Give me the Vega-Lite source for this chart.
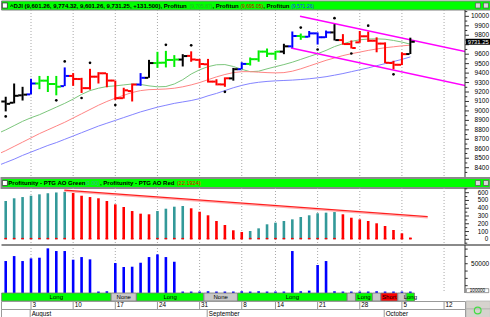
{
"$schema": "https://vega.github.io/schema/vega-lite/v6.json",
"padding": 0,
"spacing": 0,
"bounds": "flush",
"config": {"view": {"stroke": null}, "font": "Liberation Sans", "text": {"font": "Liberation Sans"}, "axis": {"disable": true}},
"resolve": {"scale": {"x": "independent", "y": "independent", "color": "independent", "fill": "independent"}},
"datasets": {
"bars": [
{"i":-4,"date":"2009-07-28","lips":8760,"teeth":8540,"jaw":8420},
{"i":-3,"date":"2009-07-29","open":9100,"high":9150,"low":8995,"close":9075,"zone":"Gray zone","fractal":"down","lips":8800,"teeth":8580,"jaw":8455,"ao":493,"aodir":"rising","vol":54600},
{"i":-2,"date":"2009-07-30","open":9087,"high":9290,"low":9080,"close":9160,"zone":"Gray zone","lips":8845,"teeth":8625,"jaw":8490,"ao":528,"aodir":"rising","vol":63100},
{"i":-1,"date":"2009-07-31","open":9165,"high":9255,"low":9110,"close":9172,"zone":"Gray zone","lips":8890,"teeth":8670,"jaw":8530,"ao":544,"aodir":"rising","vol":54600},
{"i":0,"date":"2009-08-03","open":9175,"high":9340,"low":9175,"close":9290,"zone":"Blue bar","lips":8928,"teeth":8715,"jaw":8565,"ao":561,"aodir":"rising","vol":59200},
{"i":1,"date":"2009-08-04","open":9290,"high":9370,"low":9230,"close":9320,"zone":"Green zone","lips":8960,"teeth":8760,"jaw":8600,"ao":579,"aodir":"rising","vol":60300},
{"i":2,"date":"2009-08-05","open":9320,"high":9370,"low":9200,"close":9285,"zone":"Green zone","lips":9000,"teeth":8800,"jaw":8635,"ao":593,"aodir":"rising","vol":76300},
{"i":3,"date":"2009-08-06","open":9285,"high":9370,"low":9165,"close":9256,"zone":"Green zone","fractal":"down","lips":9040,"teeth":8840,"jaw":8665,"ao":603,"aodir":"rising","vol":71700},
{"i":4,"date":"2009-08-07","open":9262,"high":9460,"low":9262,"close":9370,"zone":"Blue bar","fractal":"up","lips":9080,"teeth":8880,"jaw":8700,"ao":611,"aodir":"rising","vol":71700},
{"i":5,"date":"2009-08-10","open":9370,"high":9400,"low":9265,"close":9338,"zone":"Red zone","lips":9125,"teeth":8925,"jaw":8735,"ao":596,"aodir":"falling","vol":56900},
{"i":6,"date":"2009-08-11","open":9337,"high":9350,"low":9190,"close":9241,"zone":"Red zone","fractal":"down","lips":9175,"teeth":8970,"jaw":8770,"ao":561,"aodir":"falling","vol":61400},
{"i":7,"date":"2009-08-12","open":9241,"high":9445,"low":9225,"close":9362,"zone":"Red zone","fractal":"up","lips":9215,"teeth":9015,"jaw":8805,"ao":544,"aodir":"falling","vol":57500},
{"i":8,"date":"2009-08-13","open":9362,"high":9410,"low":9290,"close":9398,"zone":"Red zone","lips":9240,"teeth":9060,"jaw":8840,"ao":528,"aodir":"falling","vol":2500},
{"i":9,"date":"2009-08-14","open":9398,"high":9400,"low":9250,"close":9321,"zone":"Red zone","lips":9258,"teeth":9100,"jaw":8870,"ao":493,"aodir":"falling","vol":3000},
{"i":10,"date":"2009-08-17","open":9321,"high":9321,"low":9115,"close":9135,"zone":"Red zone","fractal":"down","lips":9265,"teeth":9135,"jaw":8900,"ao":450,"aodir":"falling","vol":51200},
{"i":11,"date":"2009-08-18","open":9135,"high":9245,"low":9130,"close":9218,"zone":"Red zone","lips":9275,"teeth":9165,"jaw":8930,"ao":416,"aodir":"falling","vol":44400},
{"i":12,"date":"2009-08-19","open":9210,"high":9290,"low":9100,"close":9279,"zone":"Red zone","lips":9285,"teeth":9195,"jaw":8960,"ao":364,"aodir":"falling","vol":44900},
{"i":13,"date":"2009-08-20","open":9279,"high":9400,"low":9265,"close":9350,"zone":"Blue bar","lips":9280,"teeth":9215,"jaw":8990,"ao":330,"aodir":"falling","vol":51700},
{"i":14,"date":"2009-08-21","open":9350,"high":9540,"low":9350,"close":9506,"zone":"Gray zone","lips":9265,"teeth":9225,"jaw":9015,"ao":322,"aodir":"falling","vol":61400},
{"i":15,"date":"2009-08-24","open":9506,"high":9625,"low":9455,"close":9509,"zone":"Green zone","lips":9255,"teeth":9228,"jaw":9040,"ao":364,"aodir":"rising","vol":66000},
{"i":16,"date":"2009-08-25","open":9510,"high":9635,"low":9460,"close":9539,"zone":"Green zone","fractal":"up","lips":9258,"teeth":9232,"jaw":9060,"ao":394,"aodir":"rising","vol":61400},
{"i":17,"date":"2009-08-26","open":9539,"high":9590,"low":9465,"close":9543,"zone":"Green zone","lips":9285,"teeth":9240,"jaw":9080,"ao":420,"aodir":"rising","vol":53400},
{"i":18,"date":"2009-08-27","open":9543,"high":9600,"low":9470,"close":9580,"zone":"Gray zone","lips":9330,"teeth":9255,"jaw":9095,"ao":429,"aodir":"rising","vol":2500},
{"i":19,"date":"2009-08-28","open":9582,"high":9630,"low":9520,"close":9544,"zone":"Red zone","fractal":"up","lips":9390,"teeth":9275,"jaw":9110,"ao":399,"aodir":"falling","vol":2500},
{"i":20,"date":"2009-08-31","open":9540,"high":9550,"low":9455,"close":9496,"zone":"Red zone","lips":9435,"teeth":9300,"jaw":9130,"ao":355,"aodir":"falling","vol":2500},
{"i":21,"date":"2009-09-01","open":9493,"high":9550,"low":9300,"close":9310,"zone":"Red zone","lips":9468,"teeth":9330,"jaw":9160,"ao":309,"aodir":"falling","vol":3000},
{"i":22,"date":"2009-09-02","open":9310,"high":9335,"low":9270,"close":9281,"zone":"Red zone","lips":9488,"teeth":9360,"jaw":9185,"ao":236,"aodir":"falling","vol":2500},
{"i":23,"date":"2009-09-03","open":9280,"high":9355,"low":9255,"close":9345,"zone":"Red zone","fractal":"down","lips":9490,"teeth":9385,"jaw":9215,"ao":184,"aodir":"falling","vol":2500},
{"i":24,"date":"2009-09-04","open":9344,"high":9455,"low":9320,"close":9441,"zone":"Gray zone","lips":9470,"teeth":9405,"jaw":9245,"ao":116,"aodir":"falling","vol":2500},
{"i":25,"date":"2009-09-08","open":9441,"high":9515,"low":9441,"close":9497,"zone":"Blue bar","lips":9440,"teeth":9415,"jaw":9270,"ao":94,"aodir":"falling","vol":3000},
{"i":26,"date":"2009-09-09","open":9497,"high":9565,"low":9480,"close":9547,"zone":"Green zone","lips":9415,"teeth":9415,"jaw":9290,"ao":107,"aodir":"rising","vol":2500},
{"i":27,"date":"2009-09-10","open":9547,"high":9640,"low":9520,"close":9627,"zone":"Green zone","lips":9420,"teeth":9410,"jaw":9303,"ao":141,"aodir":"rising","vol":3000},
{"i":28,"date":"2009-09-11","open":9627,"high":9660,"low":9570,"close":9605,"zone":"Green zone","lips":9445,"teeth":9405,"jaw":9312,"ao":193,"aodir":"rising","vol":2500},
{"i":29,"date":"2009-09-14","open":9605,"high":9635,"low":9540,"close":9627,"zone":"Green zone","lips":9468,"teeth":9402,"jaw":9318,"ao":214,"aodir":"rising","vol":2500},
{"i":30,"date":"2009-09-15","open":9627,"high":9710,"low":9600,"close":9683,"zone":"Gray zone","lips":9490,"teeth":9405,"jaw":9322,"ao":236,"aodir":"rising","vol":2500},
{"i":31,"date":"2009-09-16","open":9683,"high":9840,"low":9668,"close":9792,"zone":"Blue bar","lips":9515,"teeth":9420,"jaw":9326,"ao":257,"aodir":"rising","vol":71700},
{"i":32,"date":"2009-09-17","open":9792,"high":9818,"low":9752,"close":9784,"zone":"Green zone","fractal":"up","lips":9545,"teeth":9445,"jaw":9332,"ao":287,"aodir":"rising","vol":3000},
{"i":33,"date":"2009-09-18","open":9784,"high":9845,"low":9778,"close":9820,"zone":"Blue bar","lips":9575,"teeth":9475,"jaw":9340,"ao":309,"aodir":"rising","vol":4000},
{"i":34,"date":"2009-09-21","open":9820,"high":9830,"low":9702,"close":9779,"zone":"Blue bar","fractal":"down","lips":9605,"teeth":9505,"jaw":9350,"ao":335,"aodir":"rising","vol":47800},
{"i":35,"date":"2009-09-22","open":9779,"high":9850,"low":9772,"close":9830,"zone":"Blue bar","lips":9640,"teeth":9535,"jaw":9362,"ao":343,"aodir":"rising","vol":54600},
{"i":36,"date":"2009-09-23","open":9830,"high":9917,"low":9745,"close":9749,"zone":"Gray zone","fractal":"up","lips":9680,"teeth":9560,"jaw":9378,"ao":351,"aodir":"rising","vol":3000},
{"i":37,"date":"2009-09-24","open":9749,"high":9812,"low":9700,"close":9707,"zone":"Red zone","lips":9710,"teeth":9585,"jaw":9395,"ao":322,"aodir":"falling","vol":2500},
{"i":38,"date":"2009-09-25","open":9707,"high":9745,"low":9660,"close":9665,"zone":"Red zone","fractal":"down","lips":9735,"teeth":9605,"jaw":9415,"ao":278,"aodir":"falling","vol":2500},
{"i":39,"date":"2009-09-28","open":9725,"high":9845,"low":9720,"close":9789,"zone":"Red zone","lips":9752,"teeth":9622,"jaw":9435,"ao":257,"aodir":"falling","vol":2500},
{"i":40,"date":"2009-09-29","open":9789,"high":9838,"low":9730,"close":9742,"zone":"Red zone","fractal":"up","lips":9760,"teeth":9640,"jaw":9455,"ao":236,"aodir":"falling","vol":2500},
{"i":41,"date":"2009-09-30","open":9742,"high":9778,"low":9620,"close":9712,"zone":"Red zone","lips":9762,"teeth":9655,"jaw":9478,"ao":206,"aodir":"falling","vol":3000},
{"i":42,"date":"2009-10-01","open":9712,"high":9725,"low":9505,"close":9509,"zone":"Red zone","lips":9758,"teeth":9668,"jaw":9500,"ao":171,"aodir":"falling","vol":2500},
{"i":43,"date":"2009-10-02","open":9507,"high":9530,"low":9440,"close":9488,"zone":"Red zone","fractal":"down","lips":9745,"teeth":9678,"jaw":9522,"ao":120,"aodir":"falling","vol":2500},
{"i":44,"date":"2009-10-05","open":9488,"high":9620,"low":9485,"close":9600,"zone":"Red zone","lips":9728,"teeth":9688,"jaw":9545,"ao":77,"aodir":"falling","vol":2500},
{"i":45,"date":"2009-10-06","open":9601.26,"high":9774.32,"low":9601.26,"close":9731.25,"zone":"Gray zone","lips":9705.87,"teeth":9695.05,"jaw":9571.26,"ao":22.19,"aodir":"falling","vol":2500}
],
"channel": [
{"line":"upper","i":31.91,"p":10000},{"line":"upper","i":51.6,"p":9626},
{"line":"lower","i":30.85,"p":9665},{"line":"lower","i":51.6,"p":9267}
],
"aotrend": [{"i":3.95,"v":634},{"i":47.06,"v":291}],
"signals": [
{"from":-3,"to":9,"state":"Long","label":"Long"},
{"from":10,"to":12,"state":"None","label":"None"},
{"from":13,"to":20,"state":"Long","label":"Long"},
{"from":21,"to":24,"state":"None","label":"None"},
{"from":25,"to":37,"state":"Long","label":"Long"},
{"from":38,"to":38,"state":"None","label":""},
{"from":39,"to":40,"state":"Long","label":"Long"},
{"from":41,"to":41,"state":"None","label":""},
{"from":42,"to":43,"state":"Short","label":"Short"},
{"from":44,"to":44,"state":"None","label":""},
{"from":45,"to":45,"state":"Long","label":"Long"}
],
"weeks": [
{"i":0,"d":"3"},{"i":5,"d":"10"},{"i":10,"d":"17"},{"i":15,"d":"24"},{"i":20,"d":"31"},{"i":25,"d":"8"},{"i":29,"d":"14"},{"i":34,"d":"21"},{"i":39,"d":"28"},{"i":44,"d":"5"},{"i":49,"d":"12"}
],
"months": [{"i":-0.1,"m":"August"},{"i":20.9,"m":"September"},{"i":41.9,"m":"October"}],
"pticks": [{"v":8350},{"v":8400},{"v":8450},{"v":8500},{"v":8550},{"v":8600},{"v":8650},{"v":8700},{"v":8750},{"v":8800},{"v":8850},{"v":8900},{"v":8950},{"v":9000},{"v":9050},{"v":9100},{"v":9150},{"v":9200},{"v":9250},{"v":9300},{"v":9350},{"v":9400},{"v":9450},{"v":9500},{"v":9550},{"v":9600},{"v":9650},{"v":9700},{"v":9750},{"v":9800},{"v":9850},{"v":9900},{"v":9950},{"v":10000},{"v":10050}],
"aticks": [{"v":-50},{"v":0},{"v":50},{"v":100},{"v":150},{"v":200},{"v":250},{"v":300},{"v":350},{"v":400},{"v":450},{"v":500},{"v":550},{"v":600},{"v":650}],
"vticks": [{"v":12500},{"v":25000},{"v":37500},{"v":50000},{"v":62500},{"v":75000}]
},
"vconcat": [
{
"width": 464, "height": 9,
"data": {"values": [{"panel": "DJI"}]},
"layer": [
{"mark": {"type": "rect", "fill": "#00ff00", "stroke": "#808080", "strokeWidth": 1},
 "encoding": {"x": {"datum": -3.5, "type": "quantitative", "scale": {"domain": [-3.559, 51.483], "nice": false, "zero": false}, "axis": null}, "x2": {"datum": 54.5}}},
{"mark": {"type": "point", "shape": "square", "filled": true, "fill": "#ffffff", "stroke": "#333333", "strokeWidth": 0.8, "size": 26, "opacity": 1},
 "encoding": {"x": {"datum": -3.1, "type": "quantitative", "axis": null}}},
{"mark": {"type": "text", "align": "left", "baseline": "middle", "fontSize": 6, "fontWeight": "bold", "fill": "#000000", "text": "^DJI (9,601.26, 9,774.32, 9,601.26, 9,731.25, +131.500), Profitun"},
 "encoding": {"x": {"datum": -2.491, "type": "quantitative", "axis": null}}},
{"mark": {"type": "text", "align": "left", "baseline": "middle", "fontSize": 5, "fill": "#2fae2f", "text": "(9,705.87)"},
 "encoding": {"x": {"datum": 18.814, "type": "quantitative", "axis": null}}},
{"mark": {"type": "text", "align": "left", "baseline": "middle", "fontSize": 6, "fontWeight": "bold", "fill": "#000000", "text": ", Profitun"},
 "encoding": {"x": {"datum": 21.518, "type": "quantitative", "axis": null}}},
{"mark": {"type": "text", "align": "left", "baseline": "middle", "fontSize": 5, "fill": "#cc0000", "text": "(9,695.05)"},
 "encoding": {"x": {"datum": 24.84, "type": "quantitative", "axis": null}}},
{"mark": {"type": "text", "align": "left", "baseline": "middle", "fontSize": 6, "fontWeight": "bold", "fill": "#000000", "text": ", Profitun"},
 "encoding": {"x": {"datum": 27.544, "type": "quantitative", "axis": null}}},
{"mark": {"type": "text", "align": "left", "baseline": "middle", "fontSize": 5, "fill": "#1a35ff", "text": "(9,571.26)"},
 "encoding": {"x": {"datum": 30.866, "type": "quantitative", "axis": null}}},
{"mark": {"type": "point", "shape": "square", "filled": true, "fill": "#d8d8d8", "stroke": "#555555", "strokeWidth": 0.7, "size": 25, "opacity": 1},
 "encoding": {"x": {"datum": 53.02, "type": "quantitative", "axis": null}}},
{"mark": {"type": "point", "shape": "square", "filled": true, "fill": "#d8d8d8", "stroke": "#555555", "strokeWidth": 0.7, "size": 25, "opacity": 1},
 "encoding": {"x": {"datum": 53.97, "type": "quantitative", "axis": null}}}
]
},
{
"width": 464, "height": 168,
"data": {"name": "bars"},
"layer": [
{"data": {"name": "weeks"}, "mark": {"type": "rule", "color": "#a8a8a8", "strokeWidth": 1, "strokeDash": [1, 2]},
 "encoding": {"x": {"field": "i", "type": "quantitative", "scale": {"domain": [-3.559, 51.483], "nice": false, "zero": false}, "axis": null}}},
{"mark": {"type": "line", "color": "#7cc67c", "strokeWidth": 1, "clip": true},
 "encoding": {"x": {"field": "i", "type": "quantitative", "axis": null},
  "y": {"field": "lips", "type": "quantitative", "scale": {"domain": [8291, 10067], "nice": false, "zero": false}, "axis": null}}},
{"mark": {"type": "line", "color": "#ff8585", "strokeWidth": 1, "clip": true},
 "encoding": {"x": {"field": "i", "type": "quantitative", "axis": null}, "y": {"field": "teeth", "type": "quantitative", "axis": null}}},
{"mark": {"type": "line", "color": "#8484ff", "strokeWidth": 1, "clip": true},
 "encoding": {"x": {"field": "i", "type": "quantitative", "axis": null}, "y": {"field": "jaw", "type": "quantitative", "axis": null}}},
{"data": {"name": "channel"}, "mark": {"type": "line", "color": "#ff00ff", "strokeWidth": 1.6, "clip": true},
 "encoding": {"x": {"field": "i", "type": "quantitative", "axis": null}, "y": {"field": "p", "type": "quantitative", "axis": null}, "detail": {"field": "line", "type": "nominal"}}},
{"transform": [{"filter": "isValid(datum.high)"}], "mark": {"type": "rule", "strokeWidth": 2, "clip": true},
 "encoding": {"x": {"field": "i", "type": "quantitative", "axis": null}, "y": {"field": "low", "type": "quantitative", "axis": null}, "y2": {"field": "high"},
  "color": {"field": "zone", "type": "nominal", "scale": {"domain": ["Green zone","Red zone","Gray zone","Blue bar"], "range": ["#00ee00","#ff0000","#000000","#0000ff"]}, "legend": null}}},
{"transform": [{"filter": "isValid(datum.high)"}], "mark": {"type": "tick", "orient": "horizontal", "size": 3.6, "thickness": 2, "xOffset": -2.6, "clip": true, "opacity": 1},
 "encoding": {"x": {"field": "i", "type": "quantitative", "axis": null}, "y": {"field": "open", "type": "quantitative", "axis": null}, "color": {"field": "zone", "type": "nominal", "legend": null}}},
{"transform": [{"filter": "isValid(datum.high)"}], "mark": {"type": "tick", "orient": "horizontal", "size": 3.6, "thickness": 2, "xOffset": 2.6, "clip": true, "opacity": 1},
 "encoding": {"x": {"field": "i", "type": "quantitative", "axis": null}, "y": {"field": "close", "type": "quantitative", "axis": null}, "color": {"field": "zone", "type": "nominal", "legend": null}}},
{"transform": [{"filter": "datum.fractal == 'up'"}], "mark": {"type": "point", "filled": true, "color": "#000000", "size": 7, "yOffset": -6, "opacity": 1},
 "encoding": {"x": {"field": "i", "type": "quantitative", "axis": null}, "y": {"field": "high", "type": "quantitative", "axis": null}}},
{"transform": [{"filter": "datum.fractal == 'down'"}], "mark": {"type": "point", "filled": true, "color": "#000000", "size": 7, "yOffset": 5, "opacity": 1},
 "encoding": {"x": {"field": "i", "type": "quantitative", "axis": null}, "y": {"field": "low", "type": "quantitative", "axis": null}}},
{"data": {"name": "pticks"}, "transform": [{"filter": "datum.v == 10000"}], "mark": {"type": "rule", "color": "#333333", "strokeWidth": 1},
 "encoding": {"x": {"datum": 51.483, "type": "quantitative", "axis": null}}},
{"data": {"name": "pticks"}, "transform": [{"filter": "datum.v % 100 == 0"}], "mark": {"type": "rule", "color": "#333333", "strokeWidth": 1},
 "encoding": {"x": {"datum": 51.483, "type": "quantitative", "axis": null}, "x2": {"datum": 51.95}, "y": {"field": "v", "type": "quantitative", "axis": null}}},
{"data": {"name": "pticks"}, "transform": [{"filter": "datum.v % 100 != 0"}], "mark": {"type": "rule", "color": "#333333", "strokeWidth": 1},
 "encoding": {"x": {"datum": 51.483, "type": "quantitative", "axis": null}, "x2": {"datum": 51.75}, "y": {"field": "v", "type": "quantitative", "axis": null}}},
{"data": {"name": "pticks"}, "transform": [{"filter": "datum.v % 100 == 0 && datum.v >= 8400 && datum.v <= 10000 && datum.v != 9700"}], "mark": {"type": "text", "align": "right", "baseline": "middle", "fontSize": 6.5, "fill": "#000000"},
 "encoding": {"x": {"datum": 54.33, "type": "quantitative", "axis": null}, "y": {"field": "v", "type": "quantitative", "axis": null}, "text": {"field": "v", "type": "quantitative", "format": "d"}}},
{"transform": [{"filter": "datum.i == 45"}], "mark": {"type": "rect", "fill": "#000000", "yOffset": -3, "y2Offset": 3},
 "encoding": {"x": {"datum": 51.6, "type": "quantitative", "axis": null}, "x2": {"datum": 54.45}, "y": {"field": "close", "type": "quantitative", "axis": null}, "y2": {"field": "close"}}},
{"transform": [{"filter": "datum.i == 45"}], "mark": {"type": "text", "align": "left", "baseline": "middle", "fontSize": 5.8, "fill": "#ffffff"},
 "encoding": {"x": {"datum": 51.8, "type": "quantitative", "axis": null}, "y": {"field": "close", "type": "quantitative", "axis": null}, "text": {"field": "close", "type": "quantitative", "format": ".2f"}}}
]
},
{
"width": 464, "height": 10,
"data": {"values": [{"panel": "AO"}]},
"layer": [
{"mark": {"type": "rect", "fill": "#00ff00", "stroke": "#8a8a8a", "strokeWidth": 2},
 "encoding": {"x": {"datum": -3.5, "type": "quantitative", "scale": {"domain": [-3.559, 51.483], "nice": false, "zero": false}, "axis": null}, "x2": {"datum": 54.5}}},
{"mark": {"type": "point", "shape": "square", "filled": true, "fill": "#ffffff", "stroke": "#333333", "strokeWidth": 0.8, "size": 26, "opacity": 1},
 "encoding": {"x": {"datum": -3.1, "type": "quantitative", "axis": null}}},
{"mark": {"type": "text", "align": "left", "baseline": "middle", "fontSize": 6, "fontWeight": "bold", "fill": "#000000", "text": "Profitunity - PTG AO Green"},
 "encoding": {"x": {"datum": -2.693, "type": "quantitative", "axis": null}}},
{"mark": {"type": "text", "align": "left", "baseline": "middle", "fontSize": 5.5, "fill": "#3fae9e", "text": "(0.00)"},
 "encoding": {"x": {"datum": 6.406, "type": "quantitative", "axis": null}}},
{"mark": {"type": "text", "align": "left", "baseline": "middle", "fontSize": 6, "fontWeight": "bold", "fill": "#000000", "text": ", Profitunity - PTG AO Red"},
 "encoding": {"x": {"datum": 8.185, "type": "quantitative", "axis": null}}},
{"mark": {"type": "text", "align": "left", "baseline": "middle", "fontSize": 5.5, "fill": "#ee0000", "text": "(22.1924)"},
 "encoding": {"x": {"datum": 17.319, "type": "quantitative", "axis": null}}},
{"mark": {"type": "point", "shape": "square", "filled": true, "fill": "#d8d8d8", "stroke": "#555555", "strokeWidth": 0.7, "size": 25, "opacity": 1},
 "encoding": {"x": {"datum": 53.02, "type": "quantitative", "axis": null}}},
{"mark": {"type": "point", "shape": "square", "filled": true, "fill": "#d8d8d8", "stroke": "#555555", "strokeWidth": 0.7, "size": 25, "opacity": 1},
 "encoding": {"x": {"datum": 53.97, "type": "quantitative", "axis": null}}}
]
},
{
"width": 464, "height": 57,
"data": {"name": "bars"},
"layer": [
{"data": {"name": "weeks"}, "mark": {"type": "rule", "color": "#a8a8a8", "strokeWidth": 1, "strokeDash": [1, 2]},
 "encoding": {"x": {"field": "i", "type": "quantitative", "scale": {"domain": [-3.559, 51.483], "nice": false, "zero": false}, "axis": null}}},
{"transform": [{"filter": "isValid(datum.ao)"}], "mark": {"type": "rule", "strokeWidth": 2.6, "clip": true},
 "encoding": {"x": {"field": "i", "type": "quantitative", "axis": null},
  "y": {"field": "ao", "type": "quantitative", "scale": {"domain": [-73.4, 660.5], "nice": false, "zero": false}, "axis": null},
  "y2": {"datum": 0},
  "color": {"field": "aodir", "type": "nominal", "scale": {"domain": ["rising","falling"], "range": ["#339999","#ff0000"]}, "legend": null}}},
{"transform": [{"filter": "isValid(datum.ao)"}], "mark": {"type": "rule", "strokeWidth": 2.6, "color": "#ff0000", "clip": true},
 "encoding": {"x": {"field": "i", "type": "quantitative", "axis": null}, "y": {"datum": 0, "type": "quantitative", "axis": null}, "y2": {"datum": 18}}},
{"data": {"name": "aotrend"}, "mark": {"type": "line", "color": "#ffb0b0", "strokeWidth": 1.4, "yOffset": 1.2},
 "encoding": {"x": {"field": "i", "type": "quantitative", "axis": null}, "y": {"field": "v", "type": "quantitative", "axis": null}}},
{"data": {"name": "aotrend"}, "mark": {"type": "line", "color": "#ff2020", "strokeWidth": 1.3},
 "encoding": {"x": {"field": "i", "type": "quantitative", "axis": null}, "y": {"field": "v", "type": "quantitative", "axis": null}}},
{"data": {"name": "aticks"}, "transform": [{"filter": "datum.v == 0"}], "mark": {"type": "rule", "color": "#333333", "strokeWidth": 1},
 "encoding": {"x": {"datum": 51.483, "type": "quantitative", "axis": null}}},
{"data": {"name": "aticks"}, "transform": [{"filter": "datum.v % 100 == 0 && datum.v >= 0"}], "mark": {"type": "rule", "color": "#333333", "strokeWidth": 1},
 "encoding": {"x": {"datum": 51.483, "type": "quantitative", "axis": null}, "x2": {"datum": 51.95}, "y": {"field": "v", "type": "quantitative", "axis": null}}},
{"data": {"name": "aticks"}, "transform": [{"filter": "datum.v % 100 != 0"}], "mark": {"type": "rule", "color": "#333333", "strokeWidth": 1},
 "encoding": {"x": {"datum": 51.483, "type": "quantitative", "axis": null}, "x2": {"datum": 51.75}, "y": {"field": "v", "type": "quantitative", "axis": null}}},
{"data": {"name": "aticks"}, "transform": [{"filter": "datum.v % 100 == 0 && datum.v >= 0"}], "mark": {"type": "text", "align": "right", "baseline": "middle", "fontSize": 6.3, "fill": "#000000"},
 "encoding": {"x": {"datum": 54.25, "type": "quantitative", "axis": null}, "y": {"field": "v", "type": "quantitative", "axis": null}, "text": {"field": "v", "type": "quantitative", "format": "d"}}}
]
},
{
"width": 464, "height": 48,
"data": {"name": "bars"},
"layer": [
{"data": {"name": "weeks"}, "mark": {"type": "rule", "color": "#a8a8a8", "strokeWidth": 1, "strokeDash": [1, 2]},
 "encoding": {"x": {"field": "i", "type": "quantitative", "scale": {"domain": [-3.559, 51.483], "nice": false, "zero": false}, "axis": null}}},
{"transform": [{"filter": "isValid(datum.vol)"}], "mark": {"type": "rule", "strokeWidth": 2.6, "color": "#0000ff", "clip": true},
 "encoding": {"x": {"field": "i", "type": "quantitative", "axis": null},
  "y": {"field": "vol", "type": "quantitative", "scale": {"domain": [0, 82000], "nice": false, "zero": false}, "axis": null},
  "y2": {"datum": 0}}},
{"transform": [{"filter": "datum.i == 45"}], "mark": {"type": "rule", "color": "#8a8a8a", "strokeWidth": 2},
 "encoding": {"x": {"datum": -3.5, "type": "quantitative", "axis": null}, "x2": {"datum": 54.5}, "y": {"datum": 82000, "type": "quantitative", "axis": null}}},
{"data": {"name": "vticks"}, "transform": [{"filter": "datum.v == 50000"}], "mark": {"type": "rule", "color": "#333333", "strokeWidth": 1},
 "encoding": {"x": {"datum": 51.483, "type": "quantitative", "axis": null}}},
{"data": {"name": "vticks"}, "mark": {"type": "rule", "color": "#333333", "strokeWidth": 1},
 "encoding": {"x": {"datum": 51.483, "type": "quantitative", "axis": null}, "x2": {"datum": 51.8}, "y": {"field": "v", "type": "quantitative", "axis": null}}},
{"data": {"name": "vticks"}, "transform": [{"filter": "datum.v == 50000"}], "mark": {"type": "text", "align": "right", "baseline": "middle", "fontSize": 6.5, "fill": "#000000"},
 "encoding": {"x": {"datum": 54.35, "type": "quantitative", "axis": null}, "y": {"field": "v", "type": "quantitative", "axis": null}, "text": {"field": "v", "type": "quantitative", "format": "d"}}},
{"transform": [{"filter": "datum.i == 45"}], "mark": {"type": "rect", "fill": "#ffffff", "stroke": "#555555", "strokeWidth": 0.6},
 "encoding": {"x": {"datum": 51.65, "type": "quantitative", "axis": null}, "x2": {"datum": 54.3}, "y": {"datum": 600, "type": "quantitative", "axis": null}, "y2": {"datum": 7400}}},
{"transform": [{"filter": "datum.i == 45"}], "mark": {"type": "text", "align": "left", "baseline": "middle", "fontSize": 4.6, "fill": "#000000", "text": "100000"},
 "encoding": {"x": {"datum": 52.05, "type": "quantitative", "axis": null}, "y": {"datum": 4000, "type": "quantitative", "axis": null}}}
]
},
{
"width": 464, "height": 8,
"data": {"name": "signals"},
"layer": [
{"mark": {"type": "rect", "stroke": "#7a7a7a", "strokeWidth": 0.8, "xOffset": -4.1, "x2Offset": 4.1},
 "encoding": {"x": {"field": "from", "type": "quantitative", "scale": {"domain": [-3.559, 51.483], "nice": false, "zero": false}, "axis": null}, "x2": {"field": "to"},
  "fill": {"field": "state", "type": "nominal", "scale": {"domain": ["Long","None","Short"], "range": ["#00ff00","#c8c8c8","#ff0000"]}, "legend": null}}},
{"transform": [{"filter": "datum.label != ''"}, {"fold": ["from","to"], "as": ["end","pos"]}, {"aggregate": [{"op": "mean", "field": "pos", "as": "mid"}], "groupby": ["from","to","label"]}],
 "mark": {"type": "text", "align": "center", "baseline": "middle", "fontSize": 6, "fill": "#000000"},
 "encoding": {"x": {"field": "mid", "type": "quantitative", "axis": null}, "text": {"field": "label", "type": "nominal"}}}
]
},
{
"width": 464, "height": 8,
"data": {"name": "weeks"},
"view": {"stroke": "#9a9a9a", "strokeWidth": 1},
"layer": [
{"mark": {"type": "rule", "color": "#9a9a9a", "strokeWidth": 1},
 "encoding": {"x": {"field": "i", "type": "quantitative", "scale": {"domain": [-3.559, 51.483], "nice": false, "zero": false}, "axis": null}}},
{"mark": {"type": "text", "align": "left", "baseline": "middle", "dx": 1.5, "fontSize": 6.3, "fill": "#000000"},
 "encoding": {"x": {"field": "i", "type": "quantitative", "axis": null}, "text": {"field": "d", "type": "nominal"}}},
{"transform": [{"filter": "datum.i == 49"}], "mark": {"type": "rect", "fill": "#d6d3ce", "stroke": "#aaaaaa", "strokeWidth": 0.6},
 "encoding": {"x": {"datum": 51.62, "type": "quantitative", "axis": null}, "x2": {"datum": 54.5}}}
]
},
{
"width": 464, "height": 9,
"data": {"name": "months"},
"view": {"stroke": "#9a9a9a", "strokeWidth": 1},
"layer": [
{"mark": {"type": "rule", "color": "#9a9a9a", "strokeWidth": 1},
 "encoding": {"x": {"field": "i", "type": "quantitative", "scale": {"domain": [-3.559, 51.483], "nice": false, "zero": false}, "axis": null}}},
{"mark": {"type": "text", "align": "left", "baseline": "middle", "dx": 1.5, "fontSize": 6.3, "fill": "#000000"},
 "encoding": {"x": {"field": "i", "type": "quantitative", "axis": null}, "text": {"field": "m", "type": "nominal"}}},
{"transform": [{"filter": "datum.m == 'October'"}], "mark": {"type": "rect", "fill": "#d6d3ce", "stroke": "#aaaaaa", "strokeWidth": 0.6},
 "encoding": {"x": {"datum": 51.62, "type": "quantitative", "axis": null}, "x2": {"datum": 54.5}}},
{"transform": [{"filter": "datum.m == 'October'"}], "mark": {"type": "point", "shape": "circle", "filled": false, "color": "#44dd44", "strokeWidth": 1.2, "size": 45, "yOffset": -3, "opacity": 1},
 "encoding": {"x": {"datum": 52.99, "type": "quantitative", "axis": null}}}
]
}
]
}
